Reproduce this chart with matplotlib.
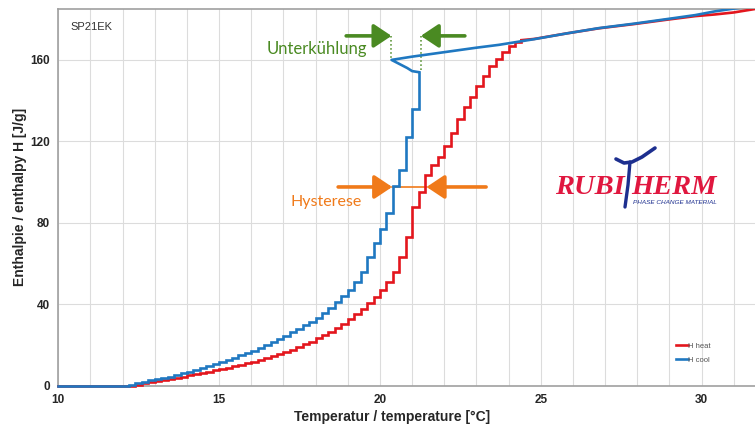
import matplotlib
matplotlib.use("Agg")
import matplotlib.pyplot as plt
from matplotlib.lines import Line2D
import numpy as np

# ---------------- data ----------------
# heating curve, stair values held on [T, T+0.2)
t_heat_steps = [10.0, 12.0, 12.2, 12.4, 12.6, 12.8, 13.0, 13.2, 13.4, 13.6, 13.8,
                14.0, 14.2, 14.4, 14.6, 14.8, 15.0, 15.2, 15.4, 15.6, 15.8,
                16.0, 16.2, 16.4, 16.6, 16.8, 17.0, 17.2, 17.4, 17.6, 17.8,
                18.0, 18.2, 18.4, 18.6, 18.8, 19.0, 19.2, 19.4, 19.6, 19.8,
                20.0, 20.2, 20.4, 20.6, 20.8, 21.0, 21.2, 21.4, 21.6, 21.8,
                22.0, 22.2, 22.4, 22.6, 22.8, 23.0, 23.2, 23.4, 23.6, 23.8,
                24.0, 24.2, 24.4]
h_heat_steps = [0.0, 0.0, 0.0, 0.5, 1.2, 1.8, 2.4, 2.9, 3.4, 3.9, 4.5,
                5.1, 5.7, 6.3, 6.9, 7.5, 8.2, 8.9, 9.6, 10.3, 11.0,
                11.8, 12.6, 13.5, 14.4, 15.4, 16.5, 17.7, 19.0, 20.3, 21.7,
                23.2, 24.8, 26.5, 28.4, 30.5, 32.7, 35.0, 37.7, 40.5, 43.5,
                47.0, 51.0, 56.0, 63.0, 73.0, 88.0, 95.0, 103.5, 108.5, 112.5,
                117.5, 124.0, 131.0, 137.0, 142.0, 147.0, 152.0, 157.0, 160.5, 164.0,
                167.0, 169.0, 169.7]
# heating curve, upper (liquid) part
t_heat_upper = [24.4, 24.8, 25.8, 26.8, 27.9, 28.9, 29.8, 30.4, 31.0, 31.66]
h_heat_upper = [169.7, 170.3, 173.0, 175.5, 177.6, 179.7, 181.5, 182.3, 183.3, 185.0]

# cooling curve, stair values held on [T, T+0.2)
t_cool_steps = [10.0, 12.0, 12.2, 12.4, 12.6, 12.8, 13.0, 13.2, 13.4, 13.6, 13.8,
                14.0, 14.2, 14.4, 14.6, 14.8, 15.0, 15.2, 15.4, 15.6, 15.8,
                16.0, 16.2, 16.4, 16.6, 16.8, 17.0, 17.2, 17.4, 17.6, 17.8,
                18.0, 18.2, 18.4, 18.6, 18.8, 19.0, 19.2, 19.4, 19.6, 19.8,
                20.0, 20.2, 20.4, 20.6, 20.8, 21.0, 21.2]
h_cool_steps = [0.0, 0.0, 0.5, 1.3, 2.0, 2.7, 3.3, 3.9, 4.5, 5.2, 6.0,
                6.9, 7.8, 8.7, 9.7, 10.7, 11.8, 12.8, 13.8, 14.9, 16.0,
                17.2, 18.5, 20.0, 21.5, 23.0, 24.5, 26.2, 28.0, 29.8, 31.5,
                33.4, 35.5, 38.0, 41.0, 44.0, 47.0, 51.0, 56.0, 63.0, 70.0,
                77.0, 85.0, 98.0, 106.0, 122.0, 136.0, 154.0]
# cooling curve: supercooling hook and upper (liquid) part
t_cool_upper = [21.2, 21.0, 20.85, 20.36, 21.0, 22.0, 23.0, 23.7, 24.8, 25.8,
                26.8, 27.9, 28.9, 29.8, 30.4, 31.0, 31.66]
h_cool_upper = [154.0, 154.5, 156.0, 160.0, 161.6, 163.8, 166.0, 167.4, 170.2, 173.0,
                175.6, 177.8, 180.0, 182.0, 183.8, 185.2, 186.5]

x_ticks = [10, 15, 20, 25, 30]
y_ticks = [0, 40, 80, 120, 160]

RED = "#e3161d"
BLUE = "#1f78c1"
GREEN = "#4a8a22"
ORANGE = "#f07a1a"
LOGO_RED = "#e0173f"
LOGO_BLUE = "#1d2f8f"

plt.rcParams['font.family'] = ['Liberation Sans', 'DejaVu Sans']

W, H = 755, 428
fig = plt.figure(figsize=(W / 100, H / 100), dpi=100)
ax_l, ax_b, ax_t = 58.3, 385.7, 9.0
ax = fig.add_axes([ax_l / W, 1 - ax_b / H, 1 - ax_l / W, (ax_b - ax_t) / H])

ax.set_xlim(10, 31.66)
ax.set_ylim(0, 185)

# grid
ax.set_xticks(x_ticks)
ax.set_xticks(np.arange(10, 32, 1), minor=True)
ax.set_yticks(y_ticks)
ax.grid(True, which='both', axis='x', color='#dcdcdc', lw=0.8)
ax.grid(True, which='major', axis='y', color='#dcdcdc', lw=0.8)
ax.set_axisbelow(True)
ax.tick_params(which='both', length=0, pad=6)
for lab in ax.get_xticklabels() + ax.get_yticklabels():
    lab.set_fontweight('bold')
    lab.set_fontsize(8.5)
    lab.set_color('#262626')
for s in ['left', 'bottom', 'top']:
    ax.spines[s].set_color('#a0a0a0')
    ax.spines[s].set_linewidth(1.2)
ax.spines['right'].set_visible(False)

# curves
lw = 1.9
ax.plot(t_heat_steps, h_heat_steps, drawstyle='steps-post', color=RED, lw=lw, label='H heat',
        solid_joinstyle='miter', zorder=3, clip_on=False)
ax.plot(t_heat_upper, h_heat_upper, color=RED, lw=lw, zorder=3)
ax.plot(t_cool_steps, h_cool_steps, drawstyle='steps-post', color=BLUE, lw=lw, label='H cool',
        solid_joinstyle='miter', zorder=3, clip_on=False)
ax.plot(t_cool_upper, h_cool_upper, color=BLUE, lw=lw, zorder=3)

ax.set_xlabel('Temperatur / temperature [°C]', fontsize=10, fontweight='bold', color='#262626',
              va='center')
ax.xaxis.set_label_coords((392 - ax_l) / (W - ax_l), -(417 - ax_b) / (ax_b - ax_t))
ax.set_ylabel('Enthalpie / enthalpy H [J/g]', fontsize=10, fontweight='bold', color='#262626',
              va='center')
ax.yaxis.set_label_coords(-(ax_l - 20) / (W - ax_l), 0.5)

leg = ax.legend(loc='lower left', bbox_to_anchor=(0.877, 0.04), fontsize=5.5, frameon=False,
                handlelength=1.5, handletextpad=0.1, labelspacing=0.9)
for t in leg.get_texts():
    t.set_color('#555555')

# sample label
ax.text(0.018, 0.965, 'SP21EK', transform=ax.transAxes, fontsize=8, color='#333333', va='top')

# Unterkühlung annotation
yg = 171.8
arrow_style = '-|>,head_length=0.45,head_width=0.3'
ax.plot([20.34, 20.34], [yg, 160], ls=':', color=GREEN, lw=1.1)
ax.plot([21.27, 21.27], [yg, 154.3], ls=':', color=GREEN, lw=1.1)
ax.annotate('', xy=(20.36, yg), xytext=(18.95, yg),
            arrowprops=dict(arrowstyle=arrow_style, color=GREEN, lw=2.6,
                            mutation_scale=24, shrinkA=0, shrinkB=0))
ax.annotate('', xy=(21.27, yg), xytext=(22.64, yg),
            arrowprops=dict(arrowstyle=arrow_style, color=GREEN, lw=2.6,
                            mutation_scale=24, shrinkA=0, shrinkB=0))
ax.text(19.6, 165.3, 'Unterkühlung', fontsize=12, color=GREEN, ha='right', va='center',
        family=['Lato', 'DejaVu Sans'])

# Hysterese annotation
yo = 97.6
ax.plot([20.36, 21.45], [yo, yo], color=ORANGE, lw=1.2)
ax.annotate('', xy=(20.38, yo), xytext=(18.7, yo),
            arrowprops=dict(arrowstyle=arrow_style, color=ORANGE, lw=2.6,
                            mutation_scale=24, shrinkA=0, shrinkB=0))
ax.annotate('', xy=(21.45, yo), xytext=(23.3, yo),
            arrowprops=dict(arrowstyle=arrow_style, color=ORANGE, lw=2.6,
                            mutation_scale=24, shrinkA=0, shrinkB=0))
ax.text(19.43, 90.4, 'Hysterese', fontsize=11.5, color=ORANGE, ha='right', va='center',
        family=['Lato', 'DejaVu Sans'])

# Rubitherm logo
def fx(px):
    return px / W
def fy(py):
    return 1 - py / H
logo_font = dict(family=['Liberation Serif', 'DejaVu Serif'], fontweight='bold', style='italic')
fig.text(fx(555), fy(187), 'RUBI', fontsize=20.5, color=LOGO_RED, va='center', ha='left', **logo_font)
fig.text(fx(631), fy(187), 'HERM', fontsize=20.5, color=LOGO_RED, va='center', ha='left', **logo_font)
# blue T stroke
fig.add_artist(Line2D([fx(616), fx(624), fx(632), fx(642), fx(655)],
                      [fy(159), fy(163), fy(162), fy(157), fy(148)],
                      color=LOGO_BLUE, lw=2.6, solid_capstyle='round', transform=fig.transFigure))
fig.add_artist(Line2D([fx(630), fx(628), fx(625)], [fy(162), fy(185), fy(207)],
                      color=LOGO_BLUE, lw=2.4, solid_capstyle='round', transform=fig.transFigure))
fig.text(fx(633), fy(202), 'PHASE CHANGE MATERIAL', fontsize=4.6, color=LOGO_BLUE, va='center',
         ha='left', style='italic')

fig.savefig('out.png', dpi=100)
